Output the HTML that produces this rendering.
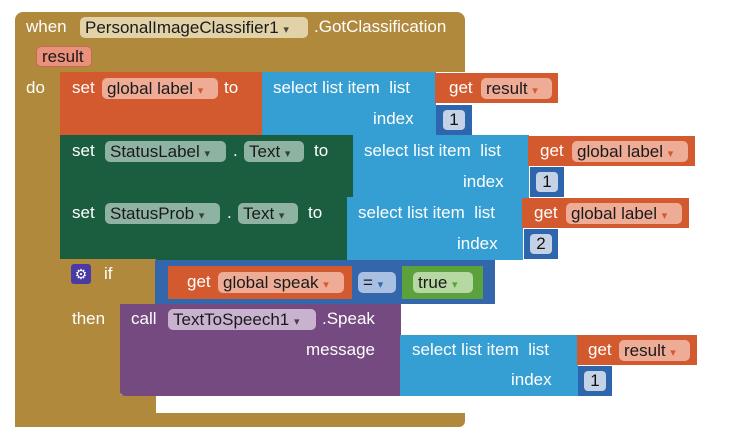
<!DOCTYPE html><html><head><style>
body{margin:0;width:740px;height:448px;background:#fff;position:relative;overflow:hidden;font-family:"Liberation Sans",Arial,sans-serif}
div{position:absolute;box-sizing:border-box}
.t{color:#fff;font-size:17px;line-height:20px;white-space:nowrap}
.p{font-size:17px;line-height:21px;height:21px;border-radius:5px;color:#1a1a1a;white-space:nowrap;padding:0 5px;overflow:hidden}
.a{font-size:11px;opacity:.75}
.n{background:#c5d2e6;border-radius:4px;color:#111;font-size:17px;line-height:20px;height:20px;text-align:center}
</style></head><body>
<!-- event block -->
<div style="left:15px;top:12px;width:450px;height:60px;background:#b0893c;border-radius:8px 8px 0 0"></div>
<div style="left:15px;top:60px;width:46px;height:367px;background:#b0893c"></div>
<div style="left:15px;top:413px;width:450px;height:14px;background:#b0893c;border-radius:0 0 6px 6px"></div>
<div class="t" style="left:26px;top:17px">when</div>
<div class="p" style="left:80px;top:17px;width:228px;background:#e2d2a8">PersonalImageClassifier1 <span class="a">▾</span></div>
<div class="t" style="left:314px;top:17px">.GotClassification</div>
<div class="p" style="left:36px;top:46px;width:56px;background:#e9917a;border:1px solid #c76a55;line-height:19px">result</div>
<div class="t" style="left:26px;top:78px">do</div>

<!-- set global label -->
<div style="left:60px;top:72px;width:203px;height:64px;background:#d35a2e"></div>
<div class="t" style="left:72px;top:78px">set</div>
<div class="p" style="left:102px;top:78px;width:116px;background:#eeab95">global label <span class="a" style="color:#d35a2e;opacity:1">▾</span></div>
<div class="t" style="left:224px;top:78px">to</div>
<div style="left:262px;top:72px;width:174px;height:64px;background:#359fd3"></div>
<div class="t" style="left:273px;top:78px">select list item&nbsp; list</div>
<div class="t" style="left:373px;top:109px">index</div>
<div style="left:435px;top:73px;width:123px;height:30px;background:#d35a2e"></div>
<div class="t" style="left:449px;top:78px">get</div>
<div class="p" style="left:481px;top:78px;width:71px;background:#eeab95">result <span class="a" style="color:#d35a2e;opacity:1">▾</span></div>
<div style="left:436px;top:105px;width:36px;height:30px;background:#2e66ad"></div>
<div class="n" style="left:443px;top:110px;width:22px">1</div>

<!-- set StatusLabel -->
<div style="left:60px;top:135px;width:294px;height:63px;background:#1a5e3f"></div>
<div class="t" style="left:72px;top:141px">set</div>
<div class="p" style="left:105px;top:141px;width:121px;background:#8fb3a2">StatusLabel <span class="a">▾</span></div>
<div class="t" style="left:233px;top:141px">.</div>
<div class="p" style="left:244px;top:141px;width:60px;background:#8fb3a2">Text <span class="a">▾</span></div>
<div class="t" style="left:314px;top:141px">to</div>
<div style="left:353px;top:135px;width:176px;height:63px;background:#359fd3"></div>
<div class="t" style="left:364px;top:141px">select list item&nbsp; list</div>
<div class="t" style="left:463px;top:172px">index</div>
<div style="left:528px;top:136px;width:167px;height:30px;background:#d35a2e"></div>
<div class="t" style="left:540px;top:141px">get</div>
<div class="p" style="left:572px;top:141px;width:116px;background:#eeab95">global label <span class="a" style="color:#d35a2e;opacity:1">▾</span></div>
<div style="left:530px;top:167px;width:34px;height:30px;background:#2e66ad"></div>
<div class="n" style="left:536px;top:172px;width:22px">1</div>

<!-- set StatusProb -->
<div style="left:60px;top:197px;width:288px;height:63px;background:#1a5e3f"></div>
<div class="t" style="left:72px;top:203px">set</div>
<div class="p" style="left:105px;top:203px;width:115px;background:#8fb3a2">StatusProb <span class="a">▾</span></div>
<div class="t" style="left:227px;top:203px">.</div>
<div class="p" style="left:238px;top:203px;width:60px;background:#8fb3a2">Text <span class="a">▾</span></div>
<div class="t" style="left:308px;top:203px">to</div>
<div style="left:347px;top:197px;width:176px;height:63px;background:#359fd3"></div>
<div class="t" style="left:358px;top:203px">select list item&nbsp; list</div>
<div class="t" style="left:457px;top:234px">index</div>
<div style="left:522px;top:198px;width:167px;height:30px;background:#d35a2e"></div>
<div class="t" style="left:534px;top:203px">get</div>
<div class="p" style="left:566px;top:203px;width:116px;background:#eeab95">global label <span class="a" style="color:#d35a2e;opacity:1">▾</span></div>
<div style="left:524px;top:229px;width:34px;height:30px;background:#2e66ad"></div>
<div class="n" style="left:530px;top:234px;width:22px">2</div>

<!-- if block -->
<div style="left:60px;top:259px;width:96px;height:46px;background:#b0893c"></div>
<div style="left:60px;top:259px;width:61px;height:154px;background:#b0893c;border-radius:0 0 0 5px"></div>
<div style="left:60px;top:395px;width:96px;height:18px;background:#b0893c"></div>
<div style="left:71px;top:264px;width:20px;height:20px;background:#4a3aa6;border-radius:3px;color:#fff;font-size:14px;line-height:20px;text-align:center">⚙</div>
<div class="t" style="left:104px;top:264px">if</div>
<div class="t" style="left:72px;top:309px">then</div>
<div style="left:155px;top:260px;width:340px;height:44px;background:#3366ab"></div>
<div style="left:168px;top:266px;width:184px;height:33px;background:#d35a2e"></div>
<div class="t" style="left:187px;top:272px">get</div>
<div class="p" style="left:218px;top:272px;width:126px;background:#eeab95">global speak <span class="a" style="color:#d35a2e;opacity:1">▾</span></div>
<div class="p" style="left:358px;top:272px;width:38px;background:#a9c0e2">= <span class="a" style="color:#3366ab;opacity:1">▾</span></div>
<div style="left:402px;top:266px;width:81px;height:33px;background:#5ba13c"></div>
<div class="p" style="left:413px;top:272px;width:60px;background:#b6d8a3">true <span class="a" style="color:#5ba13c;opacity:1">▾</span></div>

<!-- call block -->
<div style="left:120px;top:304px;width:281px;height:92px;background:#744a80;border-radius:0 0 0 5px"></div>
<div class="t" style="left:131px;top:309px">call</div>
<div class="p" style="left:168px;top:309px;width:148px;background:#c8b2cf">TextToSpeech1 <span class="a">▾</span></div>
<div class="t" style="left:322px;top:309px">.Speak</div>
<div class="t" style="left:306px;top:340px">message</div>
<div style="left:400px;top:335px;width:178px;height:61px;background:#359fd3"></div>
<div class="t" style="left:412px;top:340px">select list item&nbsp; list</div>
<div class="t" style="left:511px;top:370px">index</div>
<div style="left:577px;top:335px;width:120px;height:30px;background:#d35a2e"></div>
<div class="t" style="left:588px;top:340px">get</div>
<div class="p" style="left:619px;top:340px;width:71px;background:#eeab95">result <span class="a" style="color:#d35a2e;opacity:1">▾</span></div>
<div style="left:578px;top:366px;width:34px;height:30px;background:#2e66ad"></div>
<div class="n" style="left:584px;top:371px;width:22px">1</div>
</body></html>
